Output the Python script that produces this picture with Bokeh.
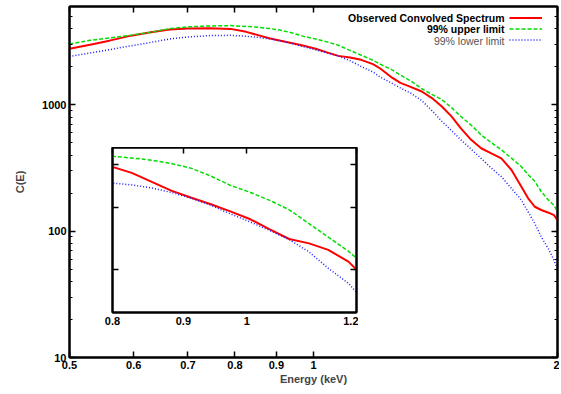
from bokeh.plotting import figure
from bokeh.models import FixedTicker, LogAxis, Range1d, Legend, LegendItem, Label
from bokeh.layouts import column
from bokeh.embed import file_html
from bokeh.resources import INLINE

# ---------------- data ----------------
energy = [0.50, 0.53, 0.56, 0.59, 0.63, 0.665, 0.70, 0.745, 0.79, 0.826,
          0.854, 0.882, 0.911, 0.942, 0.973, 1.006, 1.039, 1.073, 1.109, 1.145,
          1.184, 1.21, 1.25, 1.28, 1.32, 1.36, 1.40, 1.44, 1.48, 1.52,
          1.565, 1.61, 1.655, 1.705, 1.755, 1.805, 1.84, 1.875, 1.91, 1.95,
          1.98, 2.00]
observed = [2780, 2990, 3220, 3480, 3750, 3940, 4010, 4040, 3990, 3780,
            3560, 3360, 3210, 3070, 2930, 2780, 2600, 2440, 2370, 2270,
            2100, 1930, 1640, 1490, 1380, 1275, 1130, 970, 810, 650,
            528, 453, 414, 377, 305, 225, 182, 156, 147, 140,
            134, 122]
upper = [3030, 3240, 3380, 3530, 3750, 4010, 4140, 4210, 4236, 4170,
         4110, 4020, 3900, 3700, 3480, 3320, 3150, 2960, 2700, 2470,
         2250, 2090, 1890, 1720, 1540, 1340, 1210, 1100, 950, 808,
         690, 578, 505, 440, 378, 324, 280, 248, 205, 176,
         160, 142]
lower = [2417, 2573, 2732, 2903, 3121, 3321, 3445, 3530, 3548, 3490,
         3420, 3320, 3200, 3050, 2880, 2730, 2580, 2430, 2240, 2010,
         1820, 1650, 1480, 1360, 1230, 1080, 900, 740, 625, 528,
         445, 377, 318, 270, 218, 176, 142, 115, 90, 72,
         59, 50]

labels = ["Observed Convolved Spectrum", "99% upper limit", "99% lower limit"]
label_colors = ["black", "black", "#555555"]

x_ticks = [0.5, 0.6, 0.7, 0.8, 0.9, 1.0, 2.0]
x_tick_labels = ["0.5", "0.6", "0.7", "0.8", "0.9", "1", "2"]
y_ticks = [10, 100, 1000]
y_tick_labels = ["10", "100", "1000"]
y_minor = [m * d for d in (10, 100, 1000) for m in range(2, 10) if m * d <= 6000]

inset_x_ticks = [0.8, 0.9, 1.0, 1.2]
inset_x_tick_labels = ["0.8", "0.9", "1", "1.2"]
inset_y_ticks = [2000, 3000, 4000]

FONT = "Liberation Sans"
W, H = 559, 387


def style_axis(ax, ticks, tick_labels=None, minor=None):
    ax.ticker = FixedTicker(ticks=ticks, minor_ticks=minor or [])
    if tick_labels is None:
        ax.major_label_overrides = {t: "" for t in ticks}
        ax.major_label_standoff = 0
    else:
        ax.major_label_overrides = dict(zip(ticks, tick_labels))
        ax.major_label_standoff = 3
    ax.axis_line_color = "black"
    ax.axis_line_width = 2
    ax.major_tick_in = 6
    ax.major_tick_out = 0
    ax.minor_tick_in = 3
    ax.minor_tick_out = 0
    ax.major_tick_line_width = 1.5
    ax.minor_tick_line_width = 1
    ax.major_tick_line_color = "black"
    ax.minor_tick_line_color = "black"
    ax.major_label_text_font = FONT
    ax.major_label_text_font_style = "bold"
    ax.major_label_text_font_size = "11px"
    ax.major_label_text_color = "black"
    ax.axis_label_text_font = FONT
    ax.axis_label_text_font_style = "bold"
    ax.axis_label_text_font_size = "11px"


# ---------------- main plot ----------------
p = figure(width=W, height=H, x_axis_type="log", y_axis_type="log",
           x_range=Range1d(0.5, 2.0), y_range=Range1d(10, 6000),
           output_backend="svg", toolbar_location=None,
           min_border_left=69, min_border_right=2, min_border_top=6,
           min_border_bottom=0)
p.xgrid.visible = False
p.ygrid.visible = False
p.outline_line_color = "black"
p.outline_line_width = 2
p.background_fill_color = "white"
p.border_fill_color = "white"

style_axis(p.below[0], x_ticks, x_tick_labels)
p.below[0].axis_label = "Energy (keV)"
p.below[0].axis_label_standoff = 1
style_axis(p.left[0], y_ticks, y_tick_labels, y_minor)
p.left[0].axis_label = "C(E)"
p.left[0].axis_label_standoff = 13

top_ax = LogAxis()
style_axis(top_ax, x_ticks)
p.add_layout(top_ax, "above")
right_ax = LogAxis()
style_axis(right_ax, y_ticks, minor=y_minor)
p.add_layout(right_ax, "right")

r_obs = p.line(energy, observed, line_color="#ff0000", line_width=2)
r_up = p.line(energy, upper, line_color="#00dd00", line_width=1.5, line_dash="4 2")
r_lo = p.line(energy, lower, line_color="#1a1aff", line_width=1.5, line_dash="1 2")

# legend: glyph samples from a Legend, texts right-aligned to their left
legend = Legend(items=[LegendItem(label=" ", renderers=[r]) for r in (r_obs, r_up, r_lo)],
                location=(440, 312), orientation="vertical",
                glyph_width=33, glyph_height=11, label_height=11,
                label_standoff=0, spacing=0, padding=0, margin=0,
                label_text_font_size="11px",
                border_line_alpha=0, background_fill_alpha=0)
p.add_layout(legend)
for i, (txt, col) in enumerate(zip(labels, label_colors)):
    p.add_layout(Label(x=435, y=340 - 11.5 * i, x_units="screen", y_units="screen",
                       text=txt, text_align="right", text_baseline="middle",
                       text_font=FONT, text_font_style="bold" if i < 2 else "normal",
                       text_font_size="10.5px", text_color=col))

# ---------------- inset ----------------
ins = figure(width=315, height=180, x_axis_type="log", y_axis_type="log",
             x_range=Range1d(0.8, 1.2), y_range=Range1d(1500, 4470),
             output_backend="svg", toolbar_location=None,
             min_border_left=0, min_border_right=0, min_border_top=0,
             min_border_bottom=0)
ins.xgrid.visible = False
ins.ygrid.visible = False
ins.outline_line_color = "black"
ins.outline_line_width = 2
ins.background_fill_color = "white"
ins.border_fill_alpha = 0

style_axis(ins.below[0], inset_x_ticks, inset_x_tick_labels)
ins.below[0].major_tick_in = 0
ins.below[0].major_label_standoff = 4
style_axis(ins.left[0], inset_y_ticks)
ins_top = LogAxis()
style_axis(ins_top, inset_x_ticks)
ins.add_layout(ins_top, "above")
ins_right = LogAxis()
style_axis(ins_right, inset_y_ticks)
ins.add_layout(ins_right, "right")

ins.line(energy, observed, line_color="#ff0000", line_width=2)
ins.line(energy, upper, line_color="#00dd00", line_width=1.5, line_dash="4 2")
ins.line(energy, lower, line_color="#1a1aff", line_width=1.5, line_dash="1 2")

ins.margin = (-(H - 147), 0, 0, 43)

layout = column(p, ins, spacing=0)

with open("out.html", "w") as f:
    f.write(file_html(layout, INLINE))
